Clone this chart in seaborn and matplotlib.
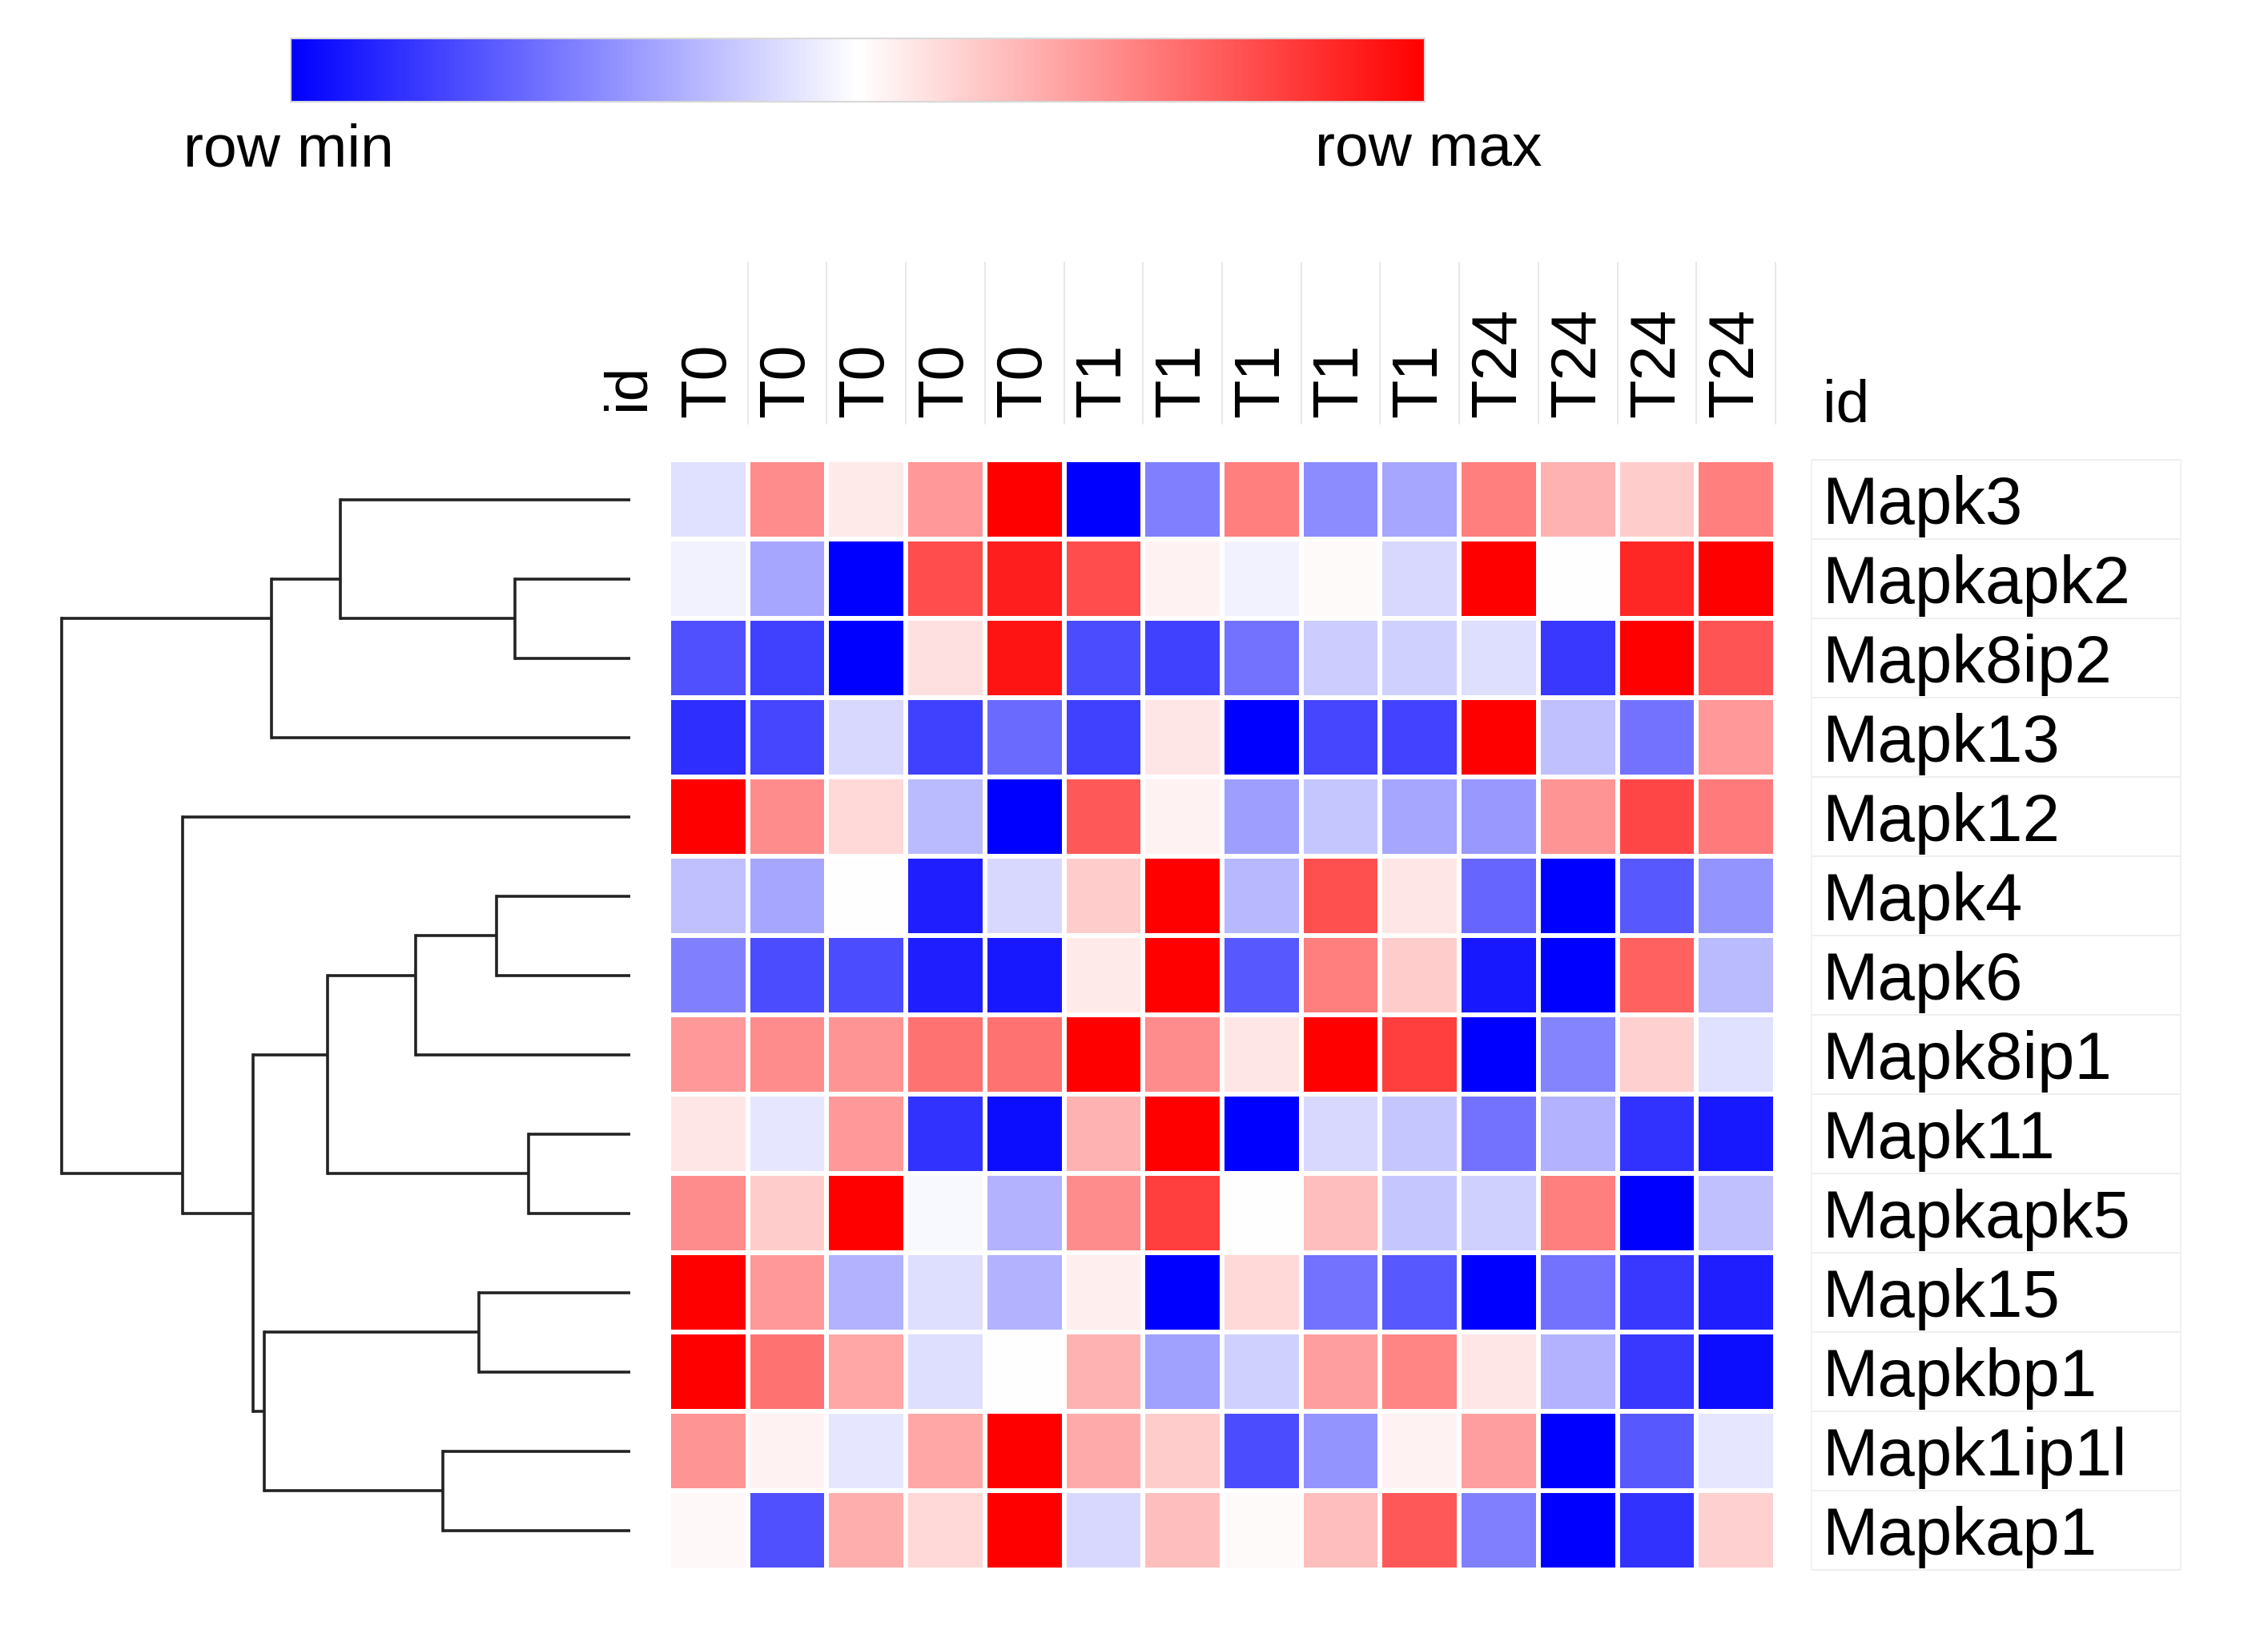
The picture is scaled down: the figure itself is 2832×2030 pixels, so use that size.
import numpy as np
import pandas as pd
import matplotlib
matplotlib.use("Agg")
import matplotlib.pyplot as plt
import seaborn as sns

sns.set_style("white")
plt.rcParams['font.family'] = ['Liberation Sans', 'DejaVu Sans']
plt.rcParams['text.color'] = 'black'
plt.rcParams['xtick.color'] = 'black'
plt.rcParams['ytick.color'] = 'black'

# --- data -------------------------------------------------------------
col_labels = ["T0"] * 5 + ["T1"] * 5 + ["T24"] * 4
row_labels = ["Mapk3", "Mapkapk2", "Mapk8ip2", "Mapk13", "Mapk12", "Mapk4", "Mapk6",
              "Mapk8ip1", "Mapk11", "Mapkapk5", "Mapk15", "Mapkbp1", "Mapk1ip1l", "Mapkap1"]

# row-scaled values (-1 = row min, +1 = row max)
values = [
    [-0.12, 0.45, 0.08, 0.40, 1.00, -1.00, -0.50, 0.50, -0.45, -0.35, 0.50, 0.30, 0.20, 0.50],
    [-0.05, -0.35, -1.00, 0.70, 0.88, 0.70, 0.05, -0.05, 0.02, -0.15, 1.00, 0.00, 0.85, 1.00],
    [-0.68, -0.75, -1.00, 0.12, 0.92, -0.70, -0.75, -0.55, -0.20, -0.18, -0.13, -0.78, 1.00, 0.67],
    [-0.82, -0.72, -0.15, -0.75, -0.58, -0.75, 0.10, -1.00, -0.72, -0.74, 1.00, -0.25, -0.55, 0.40],
    [1.00, 0.45, 0.15, -0.27, -1.00, 0.65, 0.05, -0.38, -0.22, -0.35, -0.40, 0.42, 0.72, 0.52],
    [-0.25, -0.35, 0.00, -0.88, -0.15, 0.20, 1.00, -0.28, 0.68, 0.10, -0.60, -1.00, -0.65, -0.42],
    [-0.50, -0.70, -0.70, -0.88, -0.90, 0.08, 1.00, -0.65, 0.50, 0.20, -0.90, -1.00, 0.62, -0.27],
    [0.40, 0.45, 0.42, 0.55, 0.55, 1.00, 0.45, 0.10, 1.00, 0.75, -1.00, -0.48, 0.18, -0.12],
    [0.10, -0.10, 0.40, -0.80, -0.95, 0.30, 1.00, -1.00, -0.15, -0.22, -0.55, -0.30, -0.80, -0.90],
    [0.45, 0.20, 1.00, -0.03, -0.30, 0.45, 0.75, 0.00, 0.25, -0.22, -0.18, 0.50, -1.00, -0.25],
    [1.00, 0.40, -0.30, -0.13, -0.30, 0.07, -1.00, 0.15, -0.55, -0.65, -1.00, -0.55, -0.78, -0.88],
    [1.00, 0.55, 0.35, -0.13, 0.00, 0.30, -0.37, -0.18, 0.38, 0.48, 0.10, -0.30, -0.78, -0.95],
    [0.42, 0.05, -0.10, 0.35, 1.00, 0.33, 0.20, -0.70, -0.42, 0.05, 0.38, -1.00, -0.65, -0.10],
    [0.03, -0.68, 0.32, 0.15, 1.00, -0.15, 0.25, 0.02, 0.25, 0.65, -0.50, -1.00, -0.80, 0.18],
]

# row dendrogram: merges (scipy-like ids, leaves 0..13, new clusters 14..)
merge_left = [1, 0, 15, 5, 17, 8, 18, 10, 12, 21, 20, 4, 16]
merge_right = [2, 14, 3, 6, 7, 9, 19, 11, 13, 22, 23, 24, 25]
merge_height = [0.203, 0.510, 0.631, 0.235, 0.377, 0.179, 0.532, 0.266, 0.330, 0.644, 0.663, 0.787, 1.0]

df = pd.DataFrame(values, index=row_labels)

W, H = 2832, 2030
fig = plt.figure(figsize=(W / 100, H / 100), dpi=100)

def px_box(x0, y0, x1, y1):
    return [x0 / W, 1 - y1 / H, (x1 - x0) / W, (y1 - y0) / H]

ax = fig.add_axes(px_box(835, 574, 2217, 1960))
cax = fig.add_axes(px_box(363, 48, 1779, 127))
dax = fig.add_axes(px_box(77, 574, 787, 1960))

sns.heatmap(df, ax=ax, cmap="bwr", vmin=-1, vmax=1, linewidths=3, linecolor="white",
            xticklabels=col_labels, yticklabels=row_labels,
            cbar_ax=cax, cbar_kws={"orientation": "horizontal"})

# column labels on top
ax.xaxis.tick_top()
ax.set_xticklabels(col_labels, rotation=90, fontsize=57)
ax.tick_params(axis="x", length=0, pad=38)
for lab in ax.get_xticklabels():
    lab.set_va("bottom")

# row labels on right
ax.yaxis.tick_right()
ax.set_yticklabels(row_labels, rotation=0, fontsize=60)
ax.tick_params(axis="y", length=0, pad=42)
ax.set_xlabel("")
ax.set_ylabel("")

n_rows, n_cols = df.shape
# thin separators between column labels
ax.vlines(np.arange(1, n_cols + 1), -2.49, -0.44, colors="#e4e4e4", lw=1.2, clip_on=False)
# boxes around row labels
ax.hlines(np.arange(0, n_rows + 1), 14.46, 19.13, colors="#ececec", lw=1.2, clip_on=False)
ax.vlines([14.46, 19.13], 0, n_rows, colors="#f0f0f0", lw=1.2, clip_on=False)

ax.text(-0.52, -0.63, "id", rotation=90, ha="center", va="bottom", fontsize=54)
ax.text(14.6, -0.48, "id", ha="left", va="baseline", fontsize=54)

# colorbar
cbar = ax.collections[0].colorbar
cbar.set_ticks([])
cbar.outline.set_edgecolor("#d8d8d8")
cbar.outline.set_linewidth(1.5)
fig.text(360 / W, 1 - 207 / H, "row min", ha="center", va="baseline", fontsize=54)
fig.text(1784 / W, 1 - 207 / H, "row max", ha="center", va="baseline", fontsize=54)

# dendrogram
pos = {i: i + 0.5 for i in range(n_rows)}
hgt = {i: 0.0 for i in range(n_rows)}
size = {i: 1 for i in range(n_rows)}
for k, (a, b, h) in enumerate(zip(merge_left, merge_right, merge_height)):
    cid = n_rows + k
    for c in (a, b):
        dax.plot([hgt[c], h], [pos[c], pos[c]], color="#222222", lw=2.6,
                 solid_capstyle="butt", clip_on=False)
    dax.plot([h, h], [pos[a], pos[b]], color="#222222", lw=2.6,
             solid_capstyle="projecting", clip_on=False)
    size[cid] = size[a] + size[b]
    pos[cid] = (pos[a] * size[a] + pos[b] * size[b]) / size[cid]
    hgt[cid] = h
dax.set_xlim(max(merge_height), 0)
dax.set_ylim(n_rows, 0)
dax.axis("off")

fig.savefig("out.png", dpi=100, facecolor="white")
